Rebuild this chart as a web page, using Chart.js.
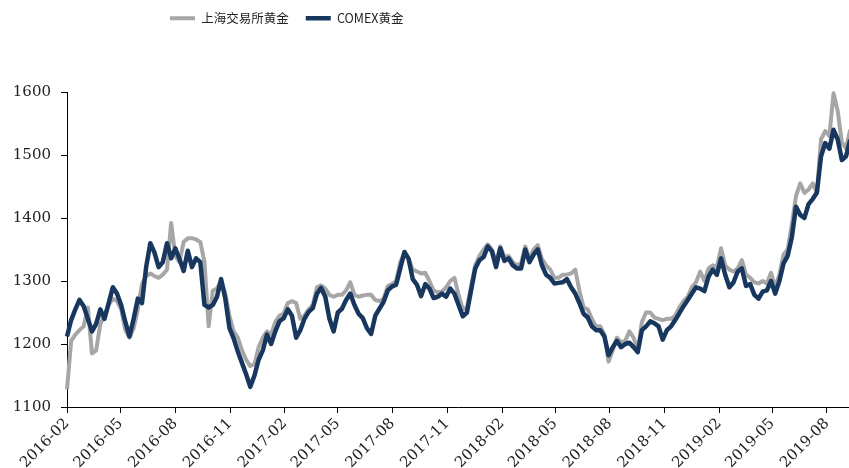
<!DOCTYPE html>
<html>
<head>
<meta charset="utf-8">
<script src="https://cdn.jsdelivr.net/npm/chart.js@4.4.1/dist/chart.umd.min.js"></script>
<style>
  html, body { margin: 0; padding: 0; background: #fff; }
  #wrap { width: 849px; height: 468px; }
</style>
</head>
<body>
<div id="wrap"><canvas id="gold"></canvas></div>
<script>
// weekly closes, first point on 2016-02-01
const startDate = '2016-02-01';
const seriesNames = ['上海交易所黄金', 'COMEX黄金'];
const tickLabels = ['2016-02', '2016-05', '2016-08', '2016-11', '2017-02', '2017-05', '2017-08', '2017-11',
  '2018-02', '2018-05', '2018-08', '2018-11', '2019-02', '2019-05', '2019-08'];
const yTicks = [1100, 1200, 1300, 1400, 1500, 1600];

const shGold = [
  1128, 1205, 1215, 1222, 1228, 1258, 1185, 1190, 1232, 1245, 1262, 1272, 1268, 1255, 1222, 1210,
  1225, 1255, 1295, 1308, 1312, 1308, 1305, 1310, 1318, 1392, 1340, 1330, 1362, 1368, 1368, 1366,
  1362, 1330, 1228, 1285, 1288, 1300, 1280, 1245, 1220, 1210, 1190, 1175, 1165, 1168, 1195, 1210,
  1220, 1215, 1235, 1245, 1248, 1265, 1268, 1265, 1240, 1245, 1255, 1262, 1290, 1293, 1288, 1278,
  1275, 1278, 1278, 1285, 1298, 1278, 1275, 1277, 1278, 1278, 1270, 1268, 1272, 1292, 1295, 1300,
  1330, 1345, 1335, 1318, 1315, 1312, 1313, 1300, 1285, 1282, 1283, 1290, 1300, 1305, 1278, 1255,
  1258, 1292, 1325, 1340, 1350, 1358, 1350, 1330, 1355, 1338, 1340, 1330, 1325, 1328, 1355, 1335,
  1350, 1357, 1335, 1325, 1318, 1305, 1305, 1310, 1310, 1312, 1318, 1285, 1258, 1255, 1240, 1228,
  1228, 1215, 1172, 1190, 1210, 1203, 1205, 1220, 1210, 1190, 1235, 1250, 1250, 1242, 1240, 1238,
  1240, 1240, 1245, 1258, 1268, 1275, 1290, 1298, 1315, 1300, 1320, 1325, 1322, 1352, 1325, 1318,
  1315, 1320, 1333, 1310, 1305, 1298, 1296, 1300, 1296, 1313, 1290, 1310, 1342, 1350, 1390, 1435,
  1455, 1440, 1445, 1455, 1440, 1525, 1538, 1530, 1598, 1570, 1520, 1510, 1540
];

const comexGold = [
  1212, 1238, 1255, 1270, 1260, 1240, 1220, 1232, 1255, 1240, 1265, 1290, 1280, 1262, 1235, 1212,
  1240, 1272, 1265, 1322, 1360, 1345, 1322, 1330, 1360, 1336, 1352, 1335, 1316, 1348, 1322, 1336,
  1330, 1262, 1258, 1262, 1275, 1303, 1272, 1225, 1209, 1188, 1170, 1152, 1132, 1150, 1175, 1190,
  1215, 1200, 1220, 1236, 1241, 1255, 1245, 1210, 1222, 1240, 1251, 1257, 1280, 1289, 1275, 1240,
  1220, 1250, 1256, 1270, 1280, 1262, 1248, 1241, 1225, 1216, 1245, 1256, 1267, 1285, 1291, 1294,
  1320, 1346, 1335, 1303, 1294, 1276, 1295, 1288, 1273, 1275, 1280, 1275, 1288, 1280, 1262, 1244,
  1250, 1285, 1320, 1333, 1338, 1355, 1347, 1322, 1352, 1332, 1336, 1325, 1320, 1320, 1350, 1330,
  1342, 1350, 1325, 1310, 1305, 1296, 1297, 1298, 1303, 1290, 1280, 1265, 1248, 1242, 1228, 1222,
  1222, 1212, 1182, 1195, 1205, 1195, 1200, 1202, 1195, 1187, 1222, 1228, 1236, 1233, 1228, 1207,
  1222, 1228, 1238, 1249, 1260, 1270, 1280, 1290, 1288, 1284, 1307, 1318, 1310, 1336, 1310, 1290,
  1298, 1315, 1320, 1292, 1295, 1278, 1272, 1283, 1285, 1300, 1280, 1300, 1328, 1340, 1370, 1418,
  1405, 1400, 1422, 1430, 1440, 1498, 1519, 1510, 1540, 1525, 1492, 1498, 1524
];

const DAY = 86400000;
const t0 = Date.parse(startDate + 'T00:00:00Z');
const daysFrom = s => (Date.parse(s + '-01T00:00:00Z') - t0) / DAY;
const tickDays = tickLabels.map(daysFrom);
const xMax = 1314;

const toPoints = arr => arr.map((v, i) => ({ x: i * 7, y: v }));

const axisFont = { family: '"DejaVu Serif", "Liberation Serif", serif', size: 15 };

// pushes the plot down under the legend
const legendGap = {
  id: 'legendGap',
  beforeInit(chart) {
    if (!chart.legend) return;
    const fit = chart.legend.fit;
    chart.legend.fit = function () {
      fit.call(this);
      this.height = 92;
    };
  },
  afterLayout(chart) {
    // legend sits left of centre and close to the top edge
    const lg = chart.legend;
    if (!lg || !lg.lineWidths) return;
    const pad = lg.options.labels.padding;
    lg.right = 2 * 170 - lg.left - pad + lg.lineWidths[0];
    lg.top -= 5;
  }
};

new Chart(document.getElementById('gold'), {
  type: 'line',
  data: {
    datasets: [
      {
        label: seriesNames[0],
        data: toPoints(shGold),
        borderColor: '#a6a6a6',
        backgroundColor: '#a6a6a6',
        borderWidth: 4,
        pointRadius: 0,
        tension: 0,
        borderJoinStyle: 'round',
        clip: false,
        order: 1
      },
      {
        label: seriesNames[1],
        data: toPoints(comexGold),
        borderColor: '#17375e',
        backgroundColor: '#17375e',
        borderWidth: 4.5,
        pointRadius: 0,
        tension: 0,
        borderJoinStyle: 'round',
        clip: false,
        order: 0
      }
    ]
  },
  options: {
    responsive: true,
    maintainAspectRatio: false,
    animation: false,
    devicePixelRatio: 1,
    layout: { padding: { left: 0, right: 0, top: 0, bottom: 0 } },
    plugins: {
      tooltip: { enabled: false },
      legend: {
        position: 'top',
        labels: {
          usePointStyle: true,
          pointStyle: 'line',
          pointStyleWidth: 25,
          padding: 17,
          color: '#222',
          font: { family: '"Noto Sans CJK SC", sans-serif', size: 12.5 },
          sort: (a, b) => a.datasetIndex - b.datasetIndex
        }
      }
    },
    scales: {
      x: {
        type: 'linear',
        min: 0,
        max: xMax,
        afterBuildTicks(scale) {
          scale.ticks = tickDays.map(v => ({ value: v }));
        },
        afterFit(scale) {
          scale.height = 61;
        },
        ticks: {
          autoSkip: false,
          minRotation: 45,
          maxRotation: 45,
          padding: 2,
          color: '#222',
          font: axisFont,
          callback: (v, i) => tickLabels[i]
        },
        grid: { drawOnChartArea: false, tickLength: 6, color: '#000' },
        border: { color: '#000', width: 1 }
      },
      y: {
        min: yTicks[0],
        max: yTicks[yTicks.length - 1],
        afterFit(scale) {
          scale.width = 67;
        },
        ticks: {
          stepSize: 100,
          padding: 10,
          color: '#222',
          font: axisFont,
          callback: v => String(v)
        },
        grid: { drawOnChartArea: false, tickLength: 6, color: '#000' },
        border: { color: '#000', width: 1 }
      }
    }
  },
  plugins: [legendGap]
});
</script>
</body>
</html>
